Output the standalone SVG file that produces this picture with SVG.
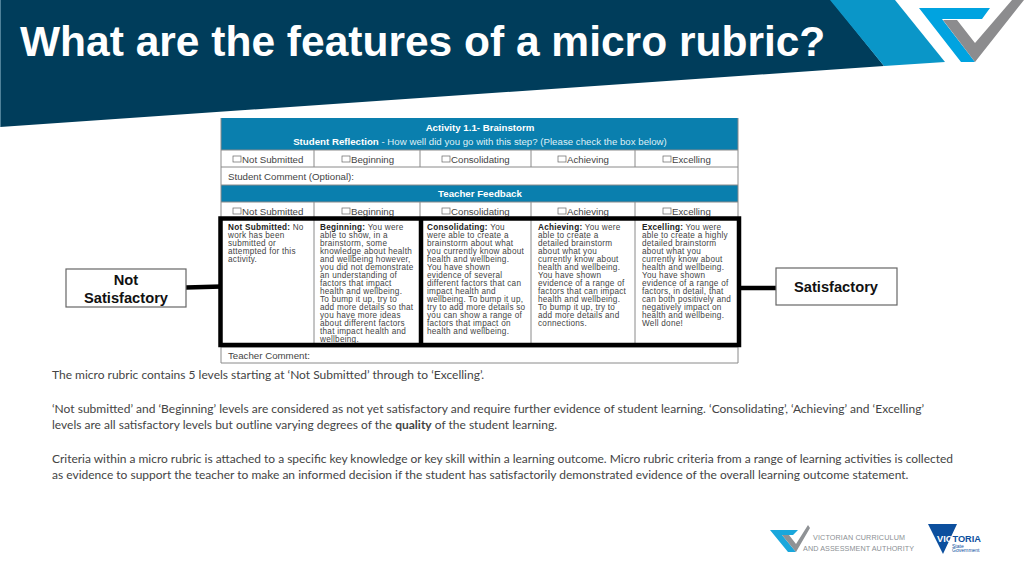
<svg xmlns="http://www.w3.org/2000/svg" width="1024" height="576" viewBox="0 0 1024 576">
<style>
.t{font-family:"Liberation Sans",Arial,sans-serif;font-size:8.2px;letter-spacing:.25px;fill:#444}
.c{font-family:"Liberation Sans",Arial,sans-serif;font-size:9.7px;fill:#444}
.h{font-family:"Liberation Sans",Arial,sans-serif;font-size:9.7px;font-weight:bold;fill:#fff}
.hn{font-weight:normal;fill:#dff0f7}
.m{text-anchor:middle}
.b{font-weight:bold;fill:#222}
.body{font-family:Lato,"Open Sans","Liberation Sans",sans-serif;font-size:12px;fill:#444}
.lab{font-family:"Liberation Sans",Arial,sans-serif;font-size:14.7px;font-weight:bold;fill:#111;text-anchor:middle}
.nb{fill:#fff;stroke:#666;stroke-width:1.2}
.grid{stroke:#8a8a8a;stroke-width:1;fill:none}
.thick{stroke:#000;stroke-width:4.5;fill:none}
.cb{fill:#fff;stroke:#666;stroke-width:.7}
.vc{font-family:"Liberation Sans",Arial,sans-serif;font-size:7.2px;fill:#8b9094}
.title{font-family:"Liberation Sans",Arial,sans-serif;font-size:42.500px;font-weight:bold;fill:#fff}
.vic{font-family:"Liberation Sans",Arial,sans-serif;fill:#0c4f9e}
</style>
<rect width="1024" height="576" fill="#fff"/>
<g id="header">
<polygon points="0,0 831,0 884,66 0,127" fill="#003d5b"/>
<rect x="0" y="0" width="1" height="127" fill="#4f8199"/>
<polygon points="830,0 895,0 945,62 884,66" fill="#0a96c8"/>
<polygon points="919,8 990,8 982,19 942,19 975,62 961,62" fill="#00a3e0"/>
<polygon points="943,20 957,20 975,43 1012,0 1024,0 975,62" fill="#8c8c8e"/>
<text class="title" x="20" y="56">What are the features of a micro rubric?</text>
</g>
<g id="rubric-table">
<rect x="221" y="118" width="517" height="32" fill="#0a7fae"/>
<rect x="221" y="185" width="517" height="17" fill="#0a7fae"/>
<path class="grid" d="M221 118V363H738V118M221 150H738M221 167H738M221 185H738M221 202H738M221 347H738M314 150V167M420 150V167M531 150V167M635 150V167M314 202V217M420 202V217M531 202V217M635 202V217M314 219V345M531 219V345M635 219V345"/>
<text class="h m" x="480" y="131">Activity 1.1- Brainstorm</text>
<text class="h m" x="480" y="145">Student Reflection <tspan class="hn">- How well did you go with this step? (Please check the box below)</tspan></text>
<text class="h m" x="480" y="197">Teacher Feedback</text>
<g id="check-row-1">
<rect class="cb" x="233" y="156" width="8" height="6"/><text class="c" x="242" y="163">Not Submitted</text>
<rect class="cb" x="342" y="156" width="8" height="6"/><text class="c" x="351" y="163">Beginning</text>
<rect class="cb" x="442" y="156" width="8" height="6"/><text class="c" x="451" y="163">Consolidating</text>
<rect class="cb" x="558" y="156" width="8" height="6"/><text class="c" x="567" y="163">Achieving</text>
<rect class="cb" x="663" y="156" width="8" height="6"/><text class="c" x="672" y="163">Excelling</text>
</g>
<text class="c" x="228" y="180">Student Comment (Optional):</text>
<g id="check-row-2">
<rect class="cb" x="233" y="208" width="8" height="6"/><text class="c" x="242" y="215">Not Submitted</text>
<rect class="cb" x="342" y="208" width="8" height="6"/><text class="c" x="351" y="215">Beginning</text>
<rect class="cb" x="442" y="208" width="8" height="6"/><text class="c" x="451" y="215">Consolidating</text>
<rect class="cb" x="558" y="208" width="8" height="6"/><text class="c" x="567" y="215">Achieving</text>
<rect class="cb" x="663" y="208" width="8" height="6"/><text class="c" x="672" y="215">Excelling</text>
</g>
<text class="t"><tspan class="b" x="228" y="230">Not Submitted:</tspan><tspan> No</tspan><tspan x="228" y="238">work has been</tspan><tspan x="228" y="246">submitted or</tspan><tspan x="228" y="254">attempted for this</tspan><tspan x="228" y="262">activity.</tspan></text>
<text class="t"><tspan class="b" x="320" y="230">Beginning:</tspan><tspan> You were</tspan><tspan x="320" y="238">able to show, in a</tspan><tspan x="320" y="246">brainstorm, some</tspan><tspan x="320" y="254">knowledge about health</tspan><tspan x="320" y="262">and wellbeing however,</tspan><tspan x="320" y="270">you did not demonstrate</tspan><tspan x="320" y="278">an understanding of</tspan><tspan x="320" y="286">factors that impact</tspan><tspan x="320" y="294">health and wellbeing.</tspan><tspan x="320" y="302">To bump it up, try to</tspan><tspan x="320" y="310">add more details so that</tspan><tspan x="320" y="318">you have more ideas</tspan><tspan x="320" y="326">about different factors</tspan><tspan x="320" y="334">that impact health and</tspan><tspan x="320" y="342">wellbeing.</tspan></text>
<text class="t"><tspan class="b" x="427" y="230">Consolidating:</tspan><tspan> You</tspan><tspan x="427" y="238">were able to create a</tspan><tspan x="427" y="246">brainstorm about what</tspan><tspan x="427" y="254">you currently know about</tspan><tspan x="427" y="262">health and wellbeing.</tspan><tspan x="427" y="270">You have shown</tspan><tspan x="427" y="278">evidence of several</tspan><tspan x="427" y="286">different factors that can</tspan><tspan x="427" y="294">impact health and</tspan><tspan x="427" y="302">wellbeing. To bump it up,</tspan><tspan x="427" y="310">try to add more details so</tspan><tspan x="427" y="318">you can show a range of</tspan><tspan x="427" y="326">factors that impact on</tspan><tspan x="427" y="334">health and wellbeing.</tspan></text>
<text class="t"><tspan class="b" x="538" y="230">Achieving:</tspan><tspan> You were</tspan><tspan x="538" y="238">able to create a</tspan><tspan x="538" y="246">detailed brainstorm</tspan><tspan x="538" y="254">about what you</tspan><tspan x="538" y="262">currently know about</tspan><tspan x="538" y="270">health and wellbeing.</tspan><tspan x="538" y="278">You have shown</tspan><tspan x="538" y="286">evidence of a range of</tspan><tspan x="538" y="294">factors that can impact</tspan><tspan x="538" y="302">health and wellbeing.</tspan><tspan x="538" y="310">To bump it up, try to</tspan><tspan x="538" y="318">add more details and</tspan><tspan x="538" y="326">connections.</tspan></text>
<text class="t"><tspan class="b" x="642" y="230">Excelling:</tspan><tspan> You were</tspan><tspan x="642" y="238">able to create a highly</tspan><tspan x="642" y="246">detailed brainstorm</tspan><tspan x="642" y="254">about what you</tspan><tspan x="642" y="262">currently know about</tspan><tspan x="642" y="270">health and wellbeing.</tspan><tspan x="642" y="278">You have shown</tspan><tspan x="642" y="286">evidence of a range of</tspan><tspan x="642" y="294">factors, in detail, that</tspan><tspan x="642" y="302">can both positively and</tspan><tspan x="642" y="310">negatively impact on</tspan><tspan x="642" y="318">health and wellbeing.</tspan><tspan x="642" y="326">Well done!</tspan></text>
<text class="c" x="228" y="359">Teacher Comment:</text>
</g>
<g id="connectors">
<path class="thick" d="M220.500 218.500H739V345H220.500Z"/>
<path class="thick" d="M421 218.500V345"/>
<path class="thick" d="M186 287.500L222 286.500"/>
<path class="thick" d="M740 288H777"/>
</g>
<g id="node-not-satisfactory">
<rect class="nb" x="66" y="269" width="120" height="38"/>
<text class="lab" x="126" y="285">Not</text>
<text class="lab" x="126" y="303">Satisfactory</text>
</g>
<g id="node-satisfactory">
<rect class="nb" x="776" y="268" width="121" height="37"/>
<text class="lab" x="836" y="292">Satisfactory</text>
</g>
<g id="body-text">
<text class="body" x="52" y="379">The micro rubric contains 5 levels starting at ‘Not Submitted’ through to ‘Excelling’.</text>
<text class="body" x="52" y="413" textLength="872" lengthAdjust="spacing">‘Not submitted’ and ‘Beginning’ levels are considered as not yet satisfactory and require further evidence of student learning. ‘Consolidating’, ‘Achieving’ and ‘Excelling’</text>
<text class="body" x="52" y="429">levels are all satisfactory levels but outline varying degrees of the <tspan font-weight="bold">quality</tspan> of the student learning.</text>
<text class="body" x="52" y="463" textLength="901" lengthAdjust="spacing">Criteria within a micro rubric is attached to a specific key knowledge or key skill within a learning outcome. Micro rubric criteria from a range of learning activities is collected</text>
<text class="body" x="52" y="479">as evidence to support the teacher to make an informed decision if the student has satisfactorily demonstrated evidence of the overall learning outcome statement.</text>
</g>
<g id="logo-vcaa">
<polygon points="770,530 798,530 793,535 782,535 796,552 788,552" fill="#1aa7dc"/>
<polygon points="782,535 789,535 796,544 808,525 810,528 796,552" fill="#8f9295"/>
<text class="vc" x="813" y="540" textLength="92" lengthAdjust="spacing">VICTORIAN CURRICULUM</text>
<text class="vc" x="803" y="551" textLength="111" lengthAdjust="spacing">AND ASSESSMENT AUTHORITY</text>
</g>
<g id="logo-victoria">
<polygon points="928,524 957,524 943,554" fill="#0c4f9e"/>
<text class="vic" x="937" y="541.500" font-size="9.500px" font-weight="bold" textLength="44" lengthAdjust="spacingAndGlyphs"><tspan fill="#fff">VIC</tspan>TORIA</text>
<text class="vic" x="952" y="547.500" font-size="5px">State</text>
<text class="vic" x="952" y="552" font-size="5px">Government</text>
</g>
</svg>
